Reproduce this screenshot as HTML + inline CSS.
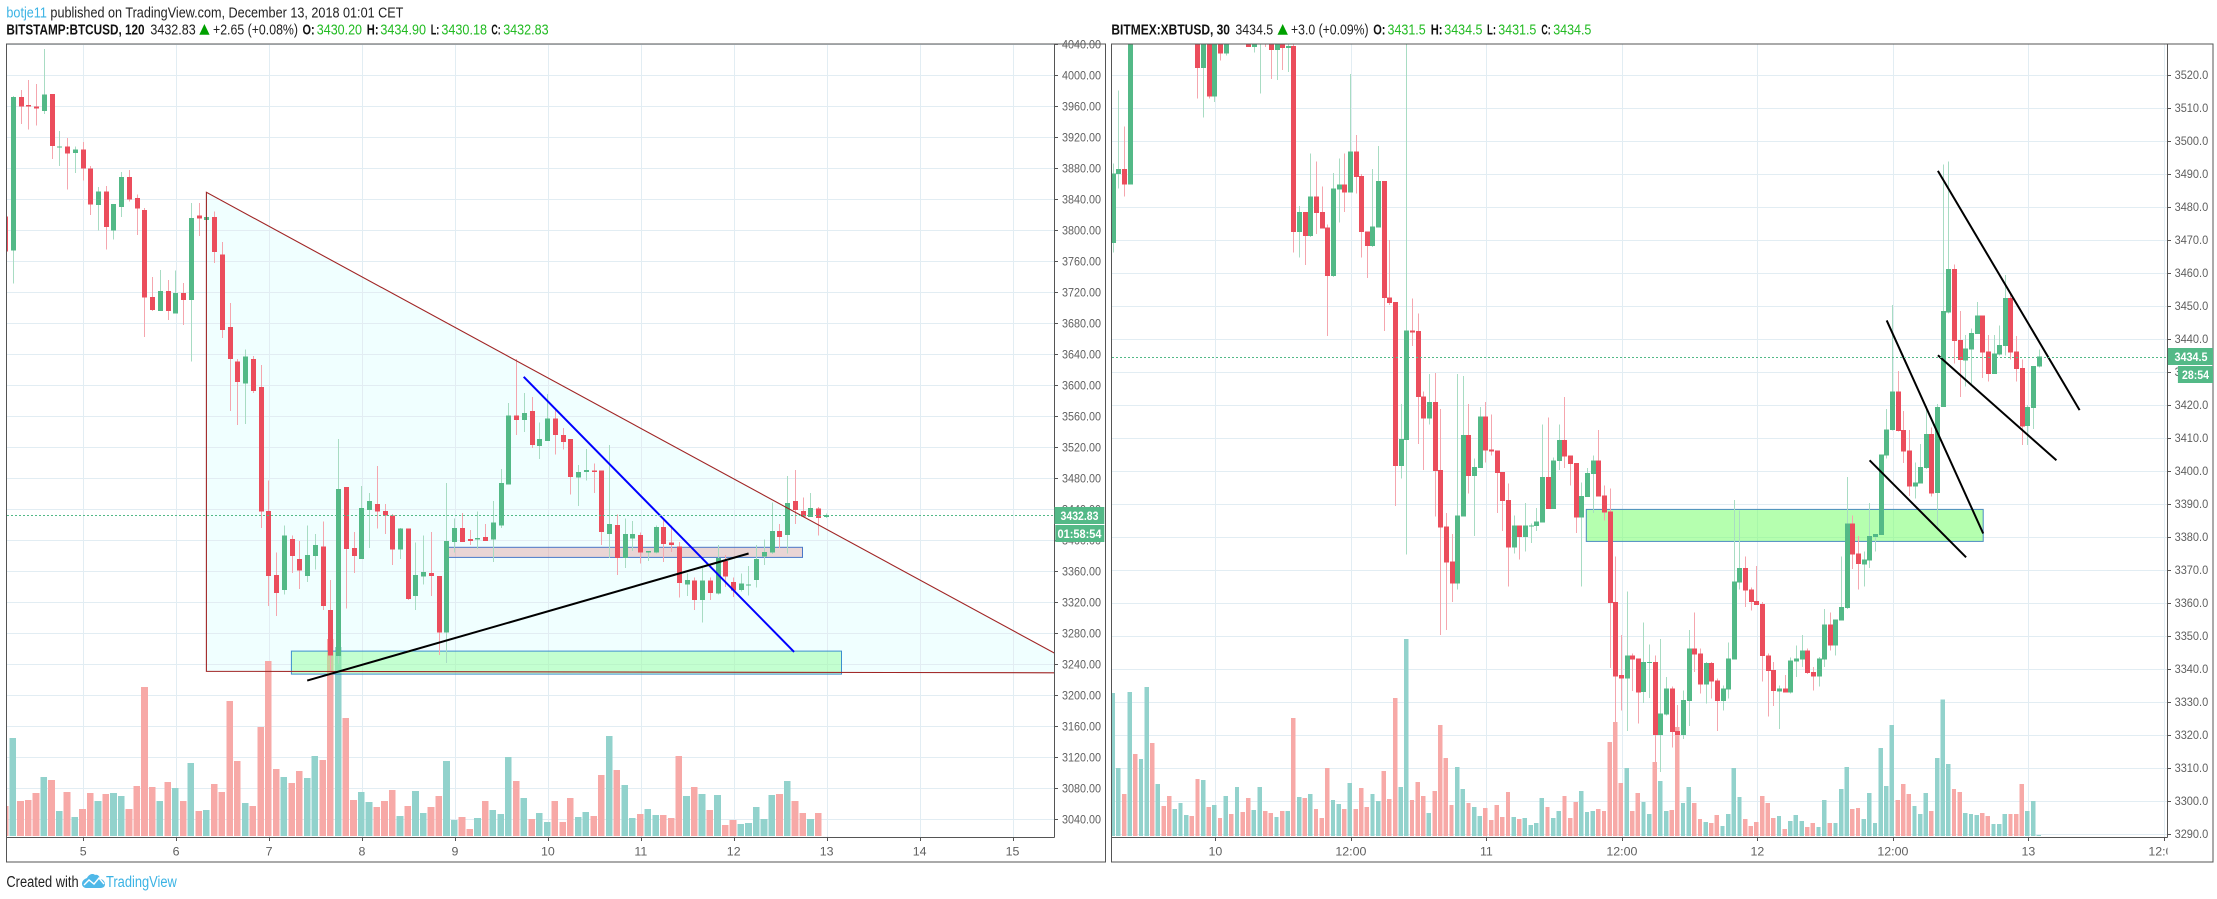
<!DOCTYPE html>
<html lang="en">
<head>
<meta charset="utf-8">
<title>BTCUSD and XBTUSD TradingView charts</title>
<style>
html,body{margin:0;padding:0;background:#fff;}
body{width:2217px;height:899px;overflow:hidden;font-family:"Liberation Sans",sans-serif;}
svg{display:block;}
text{font-family:"Liberation Sans",sans-serif;}
.hd{font-size:14.5px;fill:#222;}
.hb{font-size:14.5px;fill:#111;font-weight:bold;}
.hg{font-size:14.5px;fill:#22bb22;}
</style>
</head>
<body>
<svg id="root" width="2217" height="899" viewBox="0 0 2217 899" xmlns="http://www.w3.org/2000/svg">
  <defs>
    <clipPath id="clipL"><rect x="7" y="44.5" width="1047.5" height="792.5"/></clipPath>
    <clipPath id="clipR"><rect x="1112" y="44.5" width="1055.5" height="792.5"/></clipPath>
    <clipPath id="clipRAxis"><rect x="1112" y="838" width="1055.5" height="24"/></clipPath>
  </defs>
  <rect x="0" y="0" width="2217" height="899" fill="#fff"/>

  <text class="hd" x="6.4" y="17.5" textLength="397" lengthAdjust="spacingAndGlyphs"><tspan fill="#3bb3e4">botje11</tspan> published on TradingView.com, December 13, 2018 01:01 CET</text>

  <g>
    <text class="hb" x="6.4" y="34.7" textLength="138.2" lengthAdjust="spacingAndGlyphs">BITSTAMP:BTCUSD, 120</text>
    <text class="hd" x="150.4" y="34.7" textLength="45.3" lengthAdjust="spacingAndGlyphs">3432.83</text>
    <polygon points="199.3,34.7 209.6,34.7 204.4,24" fill="#00a000"/>
    <text class="hd" x="213" y="34.7" textLength="85" lengthAdjust="spacingAndGlyphs">+2.65 (+0.08%)</text>
    <text class="hb" x="302.5" y="34.7" textLength="12.1" lengthAdjust="spacingAndGlyphs">O:</text>
    <text class="hg" x="316.8" y="34.7" textLength="45.2" lengthAdjust="spacingAndGlyphs">3430.20</text>
    <text class="hb" x="366.8" y="34.7" textLength="11.8" lengthAdjust="spacingAndGlyphs">H:</text>
    <text class="hg" x="380.4" y="34.7" textLength="45.6" lengthAdjust="spacingAndGlyphs">3434.90</text>
    <text class="hb" x="430.7" y="34.7" textLength="8.6" lengthAdjust="spacingAndGlyphs">L:</text>
    <text class="hg" x="441.4" y="34.7" textLength="45.6" lengthAdjust="spacingAndGlyphs">3430.18</text>
    <text class="hb" x="491.4" y="34.7" textLength="9.3" lengthAdjust="spacingAndGlyphs">C:</text>
    <text class="hg" x="503.2" y="34.7" textLength="45.4" lengthAdjust="spacingAndGlyphs">3432.83</text>
  </g>

  <g>
    <text class="hb" x="1111.4" y="34.7" textLength="118.6" lengthAdjust="spacingAndGlyphs">BITMEX:XBTUSD, 30</text>
    <text class="hd" x="1235.4" y="34.7" textLength="37.8" lengthAdjust="spacingAndGlyphs">3434.5</text>
    <polygon points="1277.5,34.7 1287.9,34.7 1282.7,24" fill="#00a000"/>
    <text class="hd" x="1291" y="34.7" textLength="77.6" lengthAdjust="spacingAndGlyphs">+3.0 (+0.09%)</text>
    <text class="hb" x="1373.2" y="34.7" textLength="12.2" lengthAdjust="spacingAndGlyphs">O:</text>
    <text class="hg" x="1387.5" y="34.7" textLength="38.2" lengthAdjust="spacingAndGlyphs">3431.5</text>
    <text class="hb" x="1430.7" y="34.7" textLength="11.8" lengthAdjust="spacingAndGlyphs">H:</text>
    <text class="hg" x="1444.3" y="34.7" textLength="38.2" lengthAdjust="spacingAndGlyphs">3434.5</text>
    <text class="hb" x="1487" y="34.7" textLength="9" lengthAdjust="spacingAndGlyphs">L:</text>
    <text class="hg" x="1498.2" y="34.7" textLength="38.2" lengthAdjust="spacingAndGlyphs">3431.5</text>
    <text class="hb" x="1541.4" y="34.7" textLength="9.3" lengthAdjust="spacingAndGlyphs">C:</text>
    <text class="hg" x="1553.2" y="34.7" textLength="38.2" lengthAdjust="spacingAndGlyphs">3434.5</text>
  </g>

  <g id="left-chart"></g>
  <g id="right-chart"></g>

  <g>
    <text class="hd" x="6.4" y="887" textLength="72.2" lengthAdjust="spacingAndGlyphs" style="font-size:15.5px">Created with</text>
    <path d="M82,884 C82,880 85,879 87,878 C89,874 93,873 95,875 C98,874 100,877 100,879 C103,879 105,882 105,884 C105,887 103,888 100,888 L86,888 C84,888 82,886 82,884 Z" fill="#4fb8e8"/>
    <path d="M84,885 L89,880 L94,884 L99,878 L104,884" fill="none" stroke="#fff" stroke-width="1.4"/>
    <text class="hd" x="106" y="887" textLength="70.8" lengthAdjust="spacingAndGlyphs" style="fill:#3bb3e4;font-size:15.5px">TradingView</text>
  </g>
</svg>

<script>
// ---------- LEFT CHART DATA (BITSTAMP:BTCUSD, 120 minute bars) ----------
const leftFirstBar = -10; // bar number of the first entry; 12 bars per day, bar 0 = day 5
const leftOpen = [
3818,3774,3972,3962,3960,3954,3976,3907,3908,3900,
3904,3880,3833,3850,3800,3830,3869,3842,3826,3714,
3696,3722,3693,3719,3710,3819,3813,3817,3769,3675,
3631,3602,3634,3598,3438,3355,3336,3402,3376,3354,
3380,3392,3310,3251,3469,3390,3376,3439,3447,3438,
3432,3388,3415,3328,3353,3358,3354,3281,3398,3416,
3402,3401,3404,3401,3419,3472,3561,3555,3567,3522,
3528,3557,3536,3531,3481,3488,3490,3490,3408,3420,
3377,3402,3407,3384,3384,3417,3397,3392,3343,3348,
3323,3348,3331,3373,3346,3336,3342,3349,3379,3384,
3412,3407,3451,3438,3430,3441,3430.2];
const leftHigh = [
3825,3973,3981,3994,3989,4034,3976,3928,3919,3908,
3914,3883,3856,3857,3834,3875,3878,3846,3829,3740,
3749,3736,3748,3732,3835,3835,3849,3824,3785,3706,
3634,3646,3638,3626,3477,3384,3419,3406,3399,3419,
3408,3424,3349,3531,3469,3411,3470,3461,3496,3447,
3434,3416,3415,3397,3406,3411,3354,3474,3428,3435,
3413,3437,3421,3451,3492,3577,3634,3590,3585,3552,
3589,3568,3545,3531,3497,3518,3499,3490,3523,3433,
3428,3425,3410,3386,3419,3428,3419,3398,3357,3352,
3364,3352,3394,3381,3352,3357,3367,3394,3401,3449,
3421,3483,3491,3455,3461,3443,3434.9];
const leftLow = [
3765,3731,3937,3930,3935,3950,3892,3883,3853,3874,
3864,3820,3800,3775,3788,3817,3837,3794,3662,3696,
3696,3684,3693,3678,3631,3793,3806,3758,3661,3567,
3549,3550,3590,3416,3315,3302,3330,3358,3337,3346,
3362,3310,3226,3241,3312,3358,3376,3390,3415,3408,
3368,3376,3323,3310,3343,3328,3252,3242,3384,3398,
3394,3389,3399,3372,3416,3472,3536,3540,3519,3505,
3528,3511,3517,3459,3444,3477,3461,3394,3377,3355,
3364,3386,3370,3373,3383,3372,3385,3326,3328,3310,
3294,3323,3330,3340,3327,3334,3329,3339,3368,3382,
3390,3383,3421,3430,3430,3406,3429];
const leftClose = [
3773,3972,3960,3960,3957,3975,3909,3908,3899,3904,
3880,3833,3850,3804,3834,3869,3840,3828,3713,3697,
3722,3696,3719,3710,3816,3815,3817,3772,3671,3634,
3604,3637,3593,3437,3354,3332,3406,3380,3361,3381,
3394,3315,3251,3466,3389,3380,3442,3451,3437,3432,
3388,3415,3324,3355,3359,3354,3281,3399,3416,3398,
3399,3403,3399,3423,3474,3561,3555,3564,3523,3531,
3557,3536,3527,3482,3488,3491,3488,3411,3421,3377,
3408,3408,3384,3386,3417,3395,3394,3345,3349,3323,
3348,3332,3377,3353,3335,3344,3343,3376,3385,3412,
3404,3448,3439,3431,3442,3429,3432.83];
const leftVolume = [
90,294,105,108,129,177,168,75,132,57,
81,129,105,126,129,120,81,150,447,147,
105,162,144,105,219,75,78,156,132,405,
225,99,90,327,525,201,177,159,195,174,
240,228,591,567,354,108,132,102,87,105,
138,60,90,135,69,87,120,225,48,57,
21,54,105,78,66,237,165,114,51,69,
42,105,42,114,57,72,60,183,300,198,
153,54,66,81,63,63,54,240,120,147,
126,78,123,33,48,36,39,87,51,123,
126,165,105,69,51,69,0];
const leftPriceTicks = [4040,4000,3960,3920,3880,3840,3800,3760,3720,3680,3640,3600,3560,3520,3480,3440,3400,3360,3320,3280,3240,3200,3160,3120,3080,3040];
const leftDayTicks = [5,6,7,8,9,10,11,12,13,14,15];
const leftLastPrice = 3432.83;
const leftLastLabel = "3432.83";
const leftCountdown = "01:58:54";
// drawings in [day, price]
const leftTriangle = [[6.326,3849],[15.456,3254],[15.456,3229],[6.326,3231]];
const leftBlueLine = [[9.74,3611],[12.65,3256]];
const leftBlackLine = [[7.41,3219],[12.16,3383]];
const leftPinkZone = [[8.91,3391],[12.74,3378]];
const leftGreenZone = [[7.24,3257],[13.16,3227.3]];

// ---------- RIGHT CHART DATA (BITMEX:XBTUSD, 30 minute bars) ----------
const rightFirstBar = -18; // bar number of the first entry; 48 bars per day, bar 0 = day 10
const rightOpen = [
3469,3489.8,3491.3,3486.7,3560,3550,3565,3578,3570,3580,
3572,3562,3570,3578,3585,3545,3521.9,3545,3513.4,3545,
3526.4,3560,3550,3565,3540,3528.3,3532,3545,3535,3527.4,
3535,3528,3528.6,3472.2,3478.3,3471,3483.1,3478.3,3473.7,3458.9,
3485.2,3486.7,3484.3,3496.7,3489.2,3472.5,3468,3473.7,3487.7,3452.5,
3451,3401.3,3409.2,3442.5,3442.2,3422.5,3415.8,3420.7,3400.1,3383.1,
3372.5,3365.8,3386.1,3410.7,3398.3,3400.7,3416.4,3406.4,3406.1,3399.5,
3391,3376.7,3383.4,3379.8,3383.1,3383.1,3384.3,3398,3388.3,3402.8,
3409.2,3404.6,3402.2,3385.8,3391.9,3398.9,3403.1,3392.5,3387.6,3360.1,
3338,3337,3344,3343.1,3332.8,3341.6,3341.9,3319.8,3326.1,3334,
3321.1,3319.9,3330.1,3346.1,3344.6,3335.2,3341.6,3336.4,3330.1,3333.7,
3342.8,3366.1,3370.4,3364,3360.4,3359.5,3344,3339.5,3333.1,3334,
3332.8,3342.2,3342.8,3345.5,3338.9,3337.6,3342.8,3353.4,3347,3354.6,
3358.3,3384,3374.9,3371.6,3372.8,3379.8,3380.4,3404.6,3412.2,3424,
3412.2,3406.1,3395.2,3396.1,3400.7,3411,3393.1,3419.2,3447.9,3461,
3439.5,3433.4,3436.7,3441.3,3447,3436.1,3429.2,3435.2,3437.7,3452.2,
3436.1,3431,3413.4,3418.9,3431.5];
const rightHigh = [
3493,3515.2,3504.3,3570,3575,3570,3585,3590,3590,3592,
3585,3580,3585,3590,3590,3550,3552,3550,3550,3552,
3556,3568,3570,3572,3548,3548,3550,3550,3548,3540,
3540,3532,3530,3480.1,3478.3,3496.1,3493.7,3486.1,3474.6,3490.1,
3494.6,3496.1,3520.1,3501.6,3489.8,3472.5,3491.3,3498.3,3487.7,3469.8,
3451,3420.1,3560,3452.1,3447.6,3424,3429.2,3429.5,3418.6,3387.1,
3380.7,3429.2,3428.6,3420.1,3403.7,3419.2,3420.7,3417,3406.1,3399.5,
3396.1,3386.4,3383.4,3390.1,3384,3388.6,3414,3416.1,3404,3414,
3422.2,3404.6,3402.2,3396.4,3400.7,3404.6,3412.2,3395.5,3394.6,3374,
3350.1,3363.4,3344.5,3343.1,3354,3347.3,3344,3348.9,3337.4,3334.6,
3328.9,3333.4,3351.6,3357,3346.1,3341.9,3341.9,3337,3334.9,3347.9,
3391,3387.9,3374,3364.6,3371,3360.1,3344.6,3341.9,3334.9,3338,
3343.4,3347,3350.1,3346.1,3340.4,3343.5,3358,3357,3354.9,3374,
3398,3386.4,3380.1,3375.5,3390.1,3380.7,3404.9,3418.6,3450.1,3430.1,
3418,3412.2,3402.5,3408,3419.5,3413.1,3420.1,3492.8,3493.7,3462.5,
3448.3,3441,3443.1,3451,3447,3441,3441,3444,3459.2,3454,
3440.7,3433.7,3419.8,3431.6,3436.7];
const rightLow = [
3466,3485.5,3483.1,3486.7,3545,3540,3555,3560,3560,3565,
3555,3550,3560,3570,3560,3512.8,3507,3512.8,3511.6,3524.3,
3525.8,3540,3540,3548,3528.3,3526.7,3514.3,3528.3,3518.6,3518.3,
3521.3,3520.7,3466.1,3464.6,3462.2,3470.7,3471.6,3473.4,3440.7,3458.6,
3475.2,3478.3,3484.3,3484,3464.6,3458.3,3467.7,3473.7,3442.2,3450.1,
3389.2,3397.6,3374.6,3437.7,3408,3400.1,3414,3386.1,3350.1,3351.6,
3360.1,3364,3386.1,3393.1,3380.1,3400.7,3402.5,3404.6,3387.1,3381.6,
3364.9,3374.9,3373.1,3375.5,3378,3381.6,3384.3,3388.3,3388.3,3400.1,
3400.7,3395.5,3381,3364.9,3391.9,3387.1,3392.2,3384.9,3340.1,3323.7,
3327.3,3321,3333.1,3323.4,3329.5,3331,3311.6,3308.6,3325.8,3316,
3316.2,3318.7,3322.5,3338.9,3332.5,3329.4,3330.9,3321,3327.3,3330.9,
3342.8,3364,3358.6,3357.6,3359.2,3336.1,3325.5,3328.6,3321.6,3332.8,
3332.5,3337.4,3340.4,3338.3,3333.4,3334.6,3340.4,3345.5,3344,3354.6,
3358,3370.1,3364,3364.9,3370.4,3375.5,3380.4,3403.7,3412.2,3411.9,
3402.2,3392.2,3391.6,3396.1,3400.4,3392.2,3381.9,3419.2,3447.6,3432.5,
3422.2,3425.5,3425.8,3441.3,3428,3427,3429.2,3434.9,3434.9,3433.7,
3427,3407.7,3407.7,3412.5,3431.2];
const rightClose = [
3490,3491.3,3486.7,3560,3550,3565,3578,3570,3580,3572,
3562,3570,3578,3585,3565,3521.9,3545,3513.4,3545,3526.4,
3550,3550,3565,3555,3528.3,3540,3545,3532,3527.4,3535,
3528,3528.6,3472.2,3478.3,3471,3483.1,3478,3473.4,3458.9,3485.5,
3486.7,3484.3,3496.7,3488.9,3472.2,3468,3474,3487.7,3452.2,3450.7,
3401.3,3409.5,3442.5,3441.9,3422.2,3415.8,3420.7,3399.8,3382.8,3372.2,
3365.8,3386.4,3410.7,3398.3,3401,3416.4,3406.1,3405.8,3399.2,3390.7,
3376.7,3383.4,3379.8,3383.4,3383.4,3384.6,3398,3388.3,3403.1,3409.2,
3404.3,3401.9,3385.8,3392.2,3399.2,3403.1,3392.2,3387.3,3359.8,3337.6,
3337,3344,3342.8,3332.8,3341.9,3341.9,3319.8,3326.4,3334,3320.8,
3319.9,3330.4,3346.1,3344.3,3335.2,3341.6,3336.1,3330.1,3334,3343.1,
3366.4,3370.4,3363.7,3360.1,3359.2,3343.7,3339.2,3333.1,3334,3332.8,
3342.5,3343.1,3345.5,3338.6,3337.6,3343.1,3353.4,3347,3354.9,3358.6,
3384,3374.6,3371.6,3373.1,3380.1,3380.7,3404.9,3412.5,3424,3411.9,
3405.8,3395.2,3396.4,3401,3411,3393.1,3419.2,3448.3,3461,3439.2,
3433.4,3437,3441.6,3447,3435.8,3429.2,3435.5,3438,3452.2,3435.8,
3430.7,3413.4,3419.2,3431.6,3434.5];
const rightVolume = [
429,204,126,432,246,231,447,279,156,90,
120,81,99,63,60,171,168,87,93,54,
120,66,147,72,114,78,147,75,69,57,
75,75,354,117,114,126,81,54,204,108,
96,81,159,81,144,87,126,105,195,111,
414,147,591,108,162,120,69,135,333,234,
93,207,141,99,87,60,84,48,93,57,
132,57,51,54,33,39,114,87,54,75,
120,54,102,135,72,75,81,75,282,342,
159,204,75,129,102,66,222,165,75,78,
327,99,147,99,51,42,39,63,30,66,
204,117,51,30,42,120,99,54,60,21,
45,63,45,27,39,27,108,39,39,141,
207,81,84,51,129,39,264,150,333,108,
156,126,90,66,129,75,234,410,216,141,
132,69,66,63,69,60,36,36,66,66,
66,156,75,105,3];
const rightPriceTicks = [3520,3510,3500,3490,3480,3470,3460,3450,3440,3430,3420,3410,3400,3390,3380,3370,3360,3350,3340,3330,3320,3310,3300,3290];
const rightTimeLabels = ["10","12:00","11","12:00","12","12:00","13","12:00"];
const rightLastPrice = 3434.5;
const rightLastLabel = "3434.5";
const rightCountdown = "28:54";
// drawings in [bar, price]
const rightGreenZone = [[65.7,3388.2],[136,3378.5]];
const rightLineA = [[127.97,3490.8],[153.06,3418.3]];
const rightLineB = [[127.97,3434.9],[148.95,3403.1]];
const rightLineC = [[118.9,3445.5],[135.99,3380.9]];
const rightLineD = [[115.87,3403.1],[132.96,3373.7]];

// ---------- AXIS FUNCTIONS ----------
const leftDayX = function (day) { return 83.2 + (day - 5) * 92.93; };
const leftBarX = function (bar) { return leftDayX(5 + bar / 12) - 0.7; };
const leftY = function (price) { return 75.3 + (4000 - price) * 0.775; };
const rightTimeX = function (bar) { return 1215.4 + bar * 5.646; };
const rightBarX = function (bar) { return rightTimeX(bar) - 1; };
const rightY = function (price) { return 74.5 + (3520 - price) * 3.3; };
const volumeHeight = function (v) { return v / 3; };

const VOLUME_BASE = 836;
const NS = "http://www.w3.org/2000/svg";
const GRID = "#e2edf3";
const GREEN = "#53b987", RED = "#eb4d5c";
const GREEN_WICK = "#a8dcc3", RED_WICK = "#f5a6ae";
const VOL_GREEN = "#92d2cc", VOL_RED = "#f7a9a7";
const AXIS = "#555555", TICK_TEXT = "#5f5f5f";

function make(tag, parent, attrs) {
  const el = document.createElementNS(NS, tag);
  for (const k in attrs) el.setAttribute(k, attrs[k]);
  parent.appendChild(el);
  return el;
}

function drawSeries(g, opts) {
  const n = opts.open.length;
  const volGroup = make("g", g, {"clip-path": opts.clip});
  
  
  opts.beforeCandles = opts.beforeCandles || function () {};
  for (let i = 0; i < n; i++) {
    const bar = i + opts.first;
    const up = opts.close[i] >= opts.open[i];
    const h = volumeHeight(opts.volume[i]);
    if (h <= 0) continue;
    const x = opts.barX(bar);
    const r = make("rect", volGroup, {x: (x - opts.volWidth / 2).toFixed(1), y: (VOLUME_BASE - h).toFixed(1), width: opts.volWidth, height: h.toFixed(1), fill: up ? VOL_GREEN : VOL_RED, "shape-rendering": "crispEdges"});
    
    
  }
  opts.beforeCandles();
  const candleGroup = make("g", g, {"clip-path": opts.clip});
  
  
  for (let i = 0; i < n; i++) {
    const bar = i + opts.first;
    const up = opts.close[i] >= opts.open[i];
    const cx = Math.round(opts.barX(bar));
    const wick = make("rect", candleGroup, {x: cx, y: opts.y(opts.high[i]).toFixed(1), width: 1, height: Math.max(0.5, opts.y(opts.low[i]) - opts.y(opts.high[i])).toFixed(1), fill: up ? GREEN_WICK : RED_WICK, "shape-rendering": "crispEdges"});
    
    
    const top = opts.y(Math.max(opts.open[i], opts.close[i]));
    const bottom = opts.y(Math.min(opts.open[i], opts.close[i]));
    const body = make("rect", candleGroup, {x: cx - 2, y: top.toFixed(1), width: 5, height: Math.max(1, bottom - top).toFixed(1), fill: up ? GREEN : RED, "shape-rendering": "crispEdges"});
    
    
  }
}

function zoneRect(g, zone, xf, yf, fill, stroke, clip, name) {
  const x1 = xf(zone[0][0]), x2 = xf(zone[1][0]), y1 = yf(zone[0][1]), y2 = yf(zone[1][1]);
  const r = make("rect", g, {x: x1.toFixed(1), y: y1.toFixed(1), width: (x2 - x1).toFixed(1), height: (y2 - y1).toFixed(1), fill: fill, stroke: stroke, "stroke-width": 1, "clip-path": clip});
  
  
}

function trendLine(g, pts, xf, yf, color, width, clip, name) {
  const l = make("line", g, {x1: xf(pts[0][0]).toFixed(1), y1: yf(pts[0][1]).toFixed(1), x2: xf(pts[1][0]).toFixed(1), y2: yf(pts[1][1]).toFixed(1), stroke: color, "stroke-width": width, "clip-path": clip});
  
  
}

// ---------- LEFT CHART ----------
(function () {
  const g = document.getElementById("left-chart");

  // triangle drawing under the grid and the price series
  const pts = leftTriangle.map(function (p) { return leftDayX(p[0]).toFixed(1) + "," + leftY(p[1]).toFixed(1); }).join(" ");
  const tri = make("polygon", g, {points: pts, fill: "#f0ffff", "clip-path": "url(#clipL)"});
  
  

  const gridGroup = make("g", g, {"shape-rendering": "crispEdges"});
  
  
  leftPriceTicks.forEach(function (p) {
    const y = Math.round(leftY(p)) + 0.5;
    const line = make("line", gridGroup, {x1: 7, x2: 1054.5, y1: y, y2: y, stroke: GRID});
    
    
  });
  leftDayTicks.forEach(function (d) {
    const x = Math.round(leftDayX(d)) + 0.5;
    const line = make("line", gridGroup, {x1: x, x2: x, y1: 44.5, y2: 837, stroke: GRID});
    
    
  });

  drawSeries(g, {
    open: leftOpen, high: leftHigh, low: leftLow, close: leftClose, volume: leftVolume,
    first: leftFirstBar, barX: leftBarX, y: leftY, volWidth: 6.6, clip: "url(#clipL)",
    beforeCandles: function () {
      zoneRect(g, leftPinkZone, leftDayX, leftY, "rgba(215,100,100,0.27)", "#4a78c8", "url(#clipL)", "resistance-zone");
      zoneRect(g, leftGreenZone, leftDayX, leftY, "rgba(140,255,150,0.45)", "#3d8ecf", "url(#clipL)", "support-zone");
    }
  });

  const edge = make("polyline", g, {
    points: [leftTriangle[2], leftTriangle[3], leftTriangle[0], leftTriangle[1]].map(function (p) { return leftDayX(p[0]).toFixed(1) + "," + leftY(p[1]).toFixed(1); }).join(" "),
    fill: "none", stroke: "#a02525", "stroke-width": 1.1, "clip-path": "url(#clipL)"
  });
  
  

  trendLine(g, leftBlueLine, leftDayX, leftY, "#0000ff", 2, "url(#clipL)", "blue-trend-line");
  trendLine(g, leftBlackLine, leftDayX, leftY, "#000000", 2, "url(#clipL)", "black-trend-line");

  const py = Math.round(leftY(leftLastPrice)) + 0.5;
  const priceLine = make("line", g, {x1: 7, x2: 1054.5, y1: py, y2: py, stroke: GREEN, "stroke-dasharray": "2 2", "shape-rendering": "crispEdges"});
  
  

  leftPriceTicks.forEach(function (p) {
    const y = leftY(p);
    const tick = make("line", g, {x1: 1054.5, x2: 1058, y1: Math.round(y) + 0.5, y2: Math.round(y) + 0.5, stroke: AXIS, "shape-rendering": "crispEdges"});
    
    
    const t = make("text", g, {x: 1062, y: (y + 4.4).toFixed(1), "font-size": 12.4, fill: TICK_TEXT, textLength: 39, lengthAdjust: "spacingAndGlyphs"});
    
    
    t.textContent = p.toFixed(2);
  });
  leftDayTicks.forEach(function (d) {
    const x = leftDayX(d);
    const tick = make("line", g, {x1: Math.round(x) + 0.5, x2: Math.round(x) + 0.5, y1: 837, y2: 841, stroke: AXIS, "shape-rendering": "crispEdges"});
    
    
    const t = make("text", g, {x: x.toFixed(1), y: 855.5, "font-size": 12.4, fill: TICK_TEXT, "text-anchor": "middle"});
    
    
    t.textContent = String(d);
  });

  const frame = make("rect", g, {x: 6.5, y: 44, width: 1099, height: 818, fill: "none", stroke: AXIS, "stroke-width": 1.3, "shape-rendering": "crispEdges"});
  
  
  const axisV = make("line", g, {x1: 1054.5, x2: 1054.5, y1: 44, y2: 837.5, stroke: AXIS, "stroke-width": 1.3, "shape-rendering": "crispEdges"});
  
  
  const axisH = make("line", g, {x1: 6.5, x2: 1054.5, y1: 837.5, y2: 837.5, stroke: AXIS, "stroke-width": 1.3, "shape-rendering": "crispEdges"});
  
  

  const badge = make("rect", g, {x: 1054.5, y: 507, width: 49.8, height: 17, fill: GREEN});
  
  
  const badgeText = make("text", g, {x: 1079.5, y: 520, "font-size": 12.4, "font-weight": "bold", fill: "#fff", "text-anchor": "middle", textLength: 38, lengthAdjust: "spacingAndGlyphs"});
  
  
  badgeText.textContent = leftLastLabel;
  const cd = make("rect", g, {x: 1055.3, y: 525, width: 49, height: 17, fill: GREEN});
  
  
  const cdText = make("text", g, {x: 1079.5, y: 538, "font-size": 12.4, "font-weight": "bold", fill: "#fff", "text-anchor": "middle", textLength: 44, lengthAdjust: "spacingAndGlyphs"});
  
  
  cdText.textContent = leftCountdown;
})();

// ---------- RIGHT CHART ----------
(function () {
  const g = document.getElementById("right-chart");
  const gridGroup = make("g", g, {"shape-rendering": "crispEdges"});
  
  
  rightPriceTicks.forEach(function (p) {
    const y = Math.round(rightY(p)) + 0.5;
    const line = make("line", gridGroup, {x1: 1112, x2: 2167.5, y1: y, y2: y, stroke: GRID});
    
    
  });
  rightTimeLabels.forEach(function (label, i) {
    const x = Math.round(rightTimeX(i * 24)) + 0.5;
    const line = make("line", gridGroup, {x1: x, x2: x, y1: 44.5, y2: 837, stroke: GRID});
    
    
  });

  drawSeries(g, {
    open: rightOpen, high: rightHigh, low: rightLow, close: rightClose, volume: rightVolume,
    first: rightFirstBar, barX: rightBarX, y: rightY, volWidth: 4.4, clip: "url(#clipR)",
    beforeCandles: function () {
      zoneRect(g, rightGreenZone, rightTimeX, rightY, "rgba(120,255,110,0.55)", "#4a8bc0", "url(#clipR)", "demand-zone");
    }
  });

  trendLine(g, rightLineA, rightTimeX, rightY, "#000000", 2, "url(#clipR)", "flag-upper-line");
  trendLine(g, rightLineB, rightTimeX, rightY, "#000000", 2, "url(#clipR)", "flag-lower-line");
  trendLine(g, rightLineC, rightTimeX, rightY, "#000000", 2, "url(#clipR)", "earlier-flag-upper-line");
  trendLine(g, rightLineD, rightTimeX, rightY, "#000000", 2, "url(#clipR)", "earlier-flag-lower-line");

  const py = Math.round(rightY(rightLastPrice)) + 0.5;
  const priceLine = make("line", g, {x1: 1112, x2: 2167.5, y1: py, y2: py, stroke: GREEN, "stroke-dasharray": "2 2", "shape-rendering": "crispEdges"});
  
  

  rightPriceTicks.forEach(function (p) {
    const y = rightY(p);
    const tick = make("line", g, {x1: 2167.5, x2: 2171, y1: Math.round(y) + 0.5, y2: Math.round(y) + 0.5, stroke: AXIS, "shape-rendering": "crispEdges"});
    
    
    const t = make("text", g, {x: 2174.6, y: (y + 4.4).toFixed(1), "font-size": 12.4, fill: TICK_TEXT, textLength: 33.6, lengthAdjust: "spacingAndGlyphs"});
    
    
    t.textContent = p.toFixed(1);
  });
  rightTimeLabels.forEach(function (label, i) {
    const x = rightTimeX(i * 24);
    const tick = make("line", g, {x1: Math.round(x) + 0.5, x2: Math.round(x) + 0.5, y1: 837, y2: 841, stroke: AXIS, "shape-rendering": "crispEdges"});
    
    
    const t = make("text", g, {x: x.toFixed(1), y: 855.5, "font-size": 12.4, fill: TICK_TEXT, "text-anchor": "middle", "clip-path": "url(#clipRAxis)"});
    
    
    t.textContent = label;
  });

  const frame = make("rect", g, {x: 1111.5, y: 44, width: 1101.5, height: 818, fill: "none", stroke: AXIS, "stroke-width": 1.3, "shape-rendering": "crispEdges"});
  
  
  const axisV = make("line", g, {x1: 2167.5, x2: 2167.5, y1: 44, y2: 837.5, stroke: AXIS, "stroke-width": 1.3, "shape-rendering": "crispEdges"});
  
  
  const axisH = make("line", g, {x1: 1111.5, x2: 2167.5, y1: 837.5, y2: 837.5, stroke: AXIS, "stroke-width": 1.3, "shape-rendering": "crispEdges"});
  
  

  const badge = make("rect", g, {x: 2167.9, y: 348, width: 45.1, height: 17, fill: GREEN});
  
  
  const badgeText = make("text", g, {x: 2191, y: 361, "font-size": 12.4, "font-weight": "bold", fill: "#fff", "text-anchor": "middle", textLength: 33, lengthAdjust: "spacingAndGlyphs"});
  
  
  badgeText.textContent = rightLastLabel;
  const cd = make("rect", g, {x: 2177.9, y: 366, width: 35.1, height: 17, fill: GREEN});
  
  
  const cdText = make("text", g, {x: 2195.5, y: 379, "font-size": 12.4, "font-weight": "bold", fill: "#fff", "text-anchor": "middle", textLength: 27, lengthAdjust: "spacingAndGlyphs"});
  
  
  cdText.textContent = rightCountdown;
})();
</script>
</body>
</html>
